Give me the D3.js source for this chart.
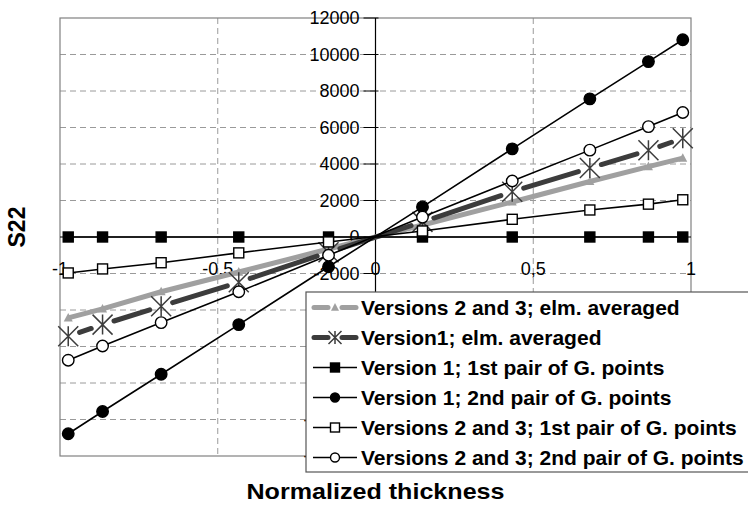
<!DOCTYPE html>
<html>
<head>
<meta charset="utf-8">
<script src="https://cdn.jsdelivr.net/npm/d3@7"></script>
<style>
  body { margin: 0; background: #fff; }
  svg { display: block; font-family: "Liberation Sans", Arial, sans-serif; }
</style>
</head>
<body>
<div id="chart"></div>
<script>
// Gauss point positions through the thickness
const thickness = [-0.9739, -0.8651, -0.6794, -0.4334, -0.1489, 0.1489, 0.4334, 0.6794, 0.8651, 0.9739]

const v23Averaged = [-4430, -3940, -3000, -1920, -660, 660, 1920, 3040, 3860, 4320]
const v1Averaged = [-5440, -4800, -3790, -2480, -840, 830, 2480, 3780, 4750, 5410]
const v1First = [0, 0, 0, 0, 0, 0, 0, 0, 0, 0]
const v1Second = [-10780, -9560, -7520, -4800, -1630, 1650, 4830, 7570, 9610, 10810]
const v23First = [-1970, -1750, -1410, -870, -270, 330, 970, 1480, 1800, 2040]
const v23Second = [-6750, -5970, -4690, -3000, -1000, 1090, 3070, 4760, 6050, 6820]

const seriesNames = [
    'Versions 2 and 3; elm. averaged',
    'Version1; elm. averaged',
    'Version 1; 1st pair of G. points',
    'Version 1; 2nd pair of G. points',
    'Versions 2 and 3; 1st pair of G. points',
    'Versions 2 and 3; 2nd pair of G. points'
]
const xTicks = [-1, -0.5, 0, 0.5, 1]
const xTickLabels = ['-1', '-0,5', '0', '0,5', '1']
const yTicks = [-12000, -10000, -8000, -6000, -4000, -2000, 0, 2000, 4000, 6000, 8000, 10000, 12000]

const width = 748, height = 506
const plotLeft = 60, plotRight = 691, plotTop = 18, plotBottom = 456

const x = d3.scaleLinear().domain([-1, 1]).range([plotLeft, plotRight])
const y = d3.scaleLinear().domain([-12000, 12000]).range([plotBottom, plotTop])

const series = [
    { name: seriesNames[0], values: v23Averaged, stroke: '#a0a0a0', sw: 5, marker: 'triangle', dashed: false },
    { name: seriesNames[1], values: v1Averaged, stroke: '#3c3c3c', sw: 5, marker: 'star', dashed: true },
    { name: seriesNames[2], values: v1First, stroke: '#000', sw: 1.6, marker: 'square', fill: '#000' },
    { name: seriesNames[3], values: v1Second, stroke: '#000', sw: 1.6, marker: 'circle', fill: '#000' },
    { name: seriesNames[4], values: v23First, stroke: '#000', sw: 1.6, marker: 'square', fill: '#fff' },
    { name: seriesNames[5], values: v23Second, stroke: '#000', sw: 1.6, marker: 'circle', fill: '#fff' }
]

const svg = d3.select('#chart').append('svg')
    .attr('width', width)
    .attr('height', height)

// grid
svg.append('g').selectAll('line')
    .data(yTicks.filter(d => d != 0 && Math.abs(d) != 12000))
    .enter().append('line')
    .attr('x1', plotLeft).attr('x2', plotRight)
    .attr('y1', d => y(d)).attr('y2', d => y(d))
    .attr('stroke', '#9a9a9a').attr('stroke-dasharray', '6,4')
svg.append('g').selectAll('line')
    .data([-0.5, 0.5])
    .enter().append('line')
    .attr('x1', d => x(d)).attr('x2', d => x(d))
    .attr('y1', plotTop).attr('y2', plotBottom)
    .attr('stroke', '#9a9a9a').attr('stroke-dasharray', '6,4')

svg.append('rect')
    .attr('x', plotLeft).attr('y', plotTop)
    .attr('width', plotRight - plotLeft).attr('height', plotBottom - plotTop)
    .attr('fill', 'none').attr('stroke', '#808080').attr('stroke-width', 1.2)

// axes crossing at the origin
const x0 = x(0), y0 = y(0)
svg.append('line').attr('x1', x0).attr('x2', x0).attr('y1', plotTop).attr('y2', plotBottom)
    .attr('stroke', '#000').attr('stroke-width', 1.2)
svg.append('line').attr('x1', plotLeft).attr('x2', plotRight).attr('y1', y0).attr('y2', y0)
    .attr('stroke', '#000').attr('stroke-width', 1.2)

svg.append('g').selectAll('line')
    .data(yTicks)
    .enter().append('line')
    .attr('x1', x0 - 12).attr('x2', x0 + 3)
    .attr('y1', d => y(d)).attr('y2', d => y(d))
    .attr('stroke', '#000')
svg.append('g').selectAll('text')
    .data(yTicks)
    .enter().append('text')
    .attr('x', x0 - 16)
    .attr('y', d => y(d))
    .attr('dy', '0.35em')
    .attr('text-anchor', 'end')
    .attr('font-size', 18)
    .text(d => d)

svg.append('g').selectAll('text')
    .data(xTicks)
    .enter().append('text')
    .attr('x', d => x(d))
    .attr('y', y0 + 38)
    .attr('text-anchor', 'middle')
    .attr('font-size', 18)
    .text((d, i) => xTickLabels[i])

// marker shapes
const drawMarker = (g, s, size) => {
    if (s.marker == 'triangle') {
        g.append('path')
            .attr('d', `M0,${-size * 0.55}L${size / 2},${size * 0.4}L${-size / 2},${size * 0.4}Z`)
            .attr('fill', s.stroke)
    } else if (s.marker == 'star') {
        let h = size / 2
        g.append('path')
            .attr('d', `M${-h},${-h}L${h},${h}M${h},${-h}L${-h},${h}M0,${-h}L0,${h}`)
            .attr('stroke', s.stroke).attr('stroke-width', 1.5).attr('fill', 'none')
    } else if (s.marker == 'square') {
        g.append('rect')
            .attr('x', -size / 2).attr('y', -size / 2)
            .attr('width', size).attr('height', size)
            .attr('fill', s.fill).attr('stroke', '#000').attr('stroke-width', 1.4)
    } else {
        g.append('circle')
            .attr('r', size / 2)
            .attr('fill', s.fill).attr('stroke', '#000').attr('stroke-width', 1.4)
    }
}
const markerSize = { triangle: 9, star: 20, square: 10, circle: 11.5 }

const line = d3.line().x(d => x(d[0])).y(d => y(d[1]))

series.forEach(s => {
    let pts = thickness.map((t, i) => [t, s.values[i]])
    let g = svg.append('g')
    if (s.dashed) {
        // one dash per segment, leaving a gap near each marker
        for (let i = 0; i < pts.length - 1; i++) {
            let ax = x(pts[i][0]), ay = y(pts[i][1]), bx = x(pts[i + 1][0]), by = y(pts[i + 1][1])
            let L = Math.hypot(bx - ax, by - ay)
            let gap = 12
            if (L < 2 * gap + 4) continue
            g.append('path')
                .attr('d', line([pts[i], pts[i + 1]]))
                .attr('stroke', s.stroke).attr('stroke-width', s.sw)
                .attr('fill', 'none').attr('stroke-linecap', 'round')
                .attr('stroke-dasharray', `${L - 2 * gap} 1000`)
                .attr('stroke-dashoffset', -gap)
        }
    } else {
        g.append('path')
            .attr('d', line(pts))
            .attr('stroke', s.stroke).attr('stroke-width', s.sw)
            .attr('fill', 'none').attr('stroke-linejoin', 'round')
    }
    pts.forEach(p => {
        let m = g.append('g').attr('transform', `translate(${x(p[0])}, ${y(p[1])})`)
        drawMarker(m, s, markerSize[s.marker])
    })
})

// legend
let legend = svg.append('g')
legend.append('rect')
    .attr('x', 306).attr('y', 292)
    .attr('width', 470).attr('height', 180)
    .attr('fill', '#fff').attr('stroke', '#555').attr('stroke-width', 1.2)

series.forEach((s, i) => {
    let cy = 307.5 + i * 30
    let row = legend.append('g')
    if (s.sw > 2) {
        row.append('line').attr('x1', 314).attr('x2', 328).attr('y1', cy).attr('y2', cy)
            .attr('stroke', s.stroke).attr('stroke-width', s.sw).attr('stroke-linecap', 'round')
        row.append('line').attr('x1', 342).attr('x2', 356).attr('y1', cy).attr('y2', cy)
            .attr('stroke', s.stroke).attr('stroke-width', s.sw).attr('stroke-linecap', 'round')
    } else {
        row.append('line').attr('x1', 313).attr('x2', 357).attr('y1', cy).attr('y2', cy)
            .attr('stroke', s.stroke).attr('stroke-width', s.sw)
    }
    let m = row.append('g').attr('transform', `translate(335, ${cy})`)
    drawMarker(m, s, s.marker == 'star' ? 13 : (s.marker == 'triangle' ? 8 : 9))
    row.append('text')
        .attr('x', 361).attr('y', cy + 7.5)
        .attr('font-size', 21).attr('font-weight', 'bold')
        .text(s.name)
})

// axis titles
svg.append('text')
    .attr('x', x0).attr('y', 499)
    .attr('text-anchor', 'middle')
    .attr('font-size', 22).attr('font-weight', 'bold')
    .attr('textLength', 258).attr('lengthAdjust', 'spacingAndGlyphs')
    .text('Normalized thickness')
svg.append('text')
    .attr('transform', 'translate(25, 227) rotate(-90)')
    .attr('text-anchor', 'middle')
    .attr('font-size', 23).attr('font-weight', 'bold')
    .text('S22')
</script>
</body>
</html>
